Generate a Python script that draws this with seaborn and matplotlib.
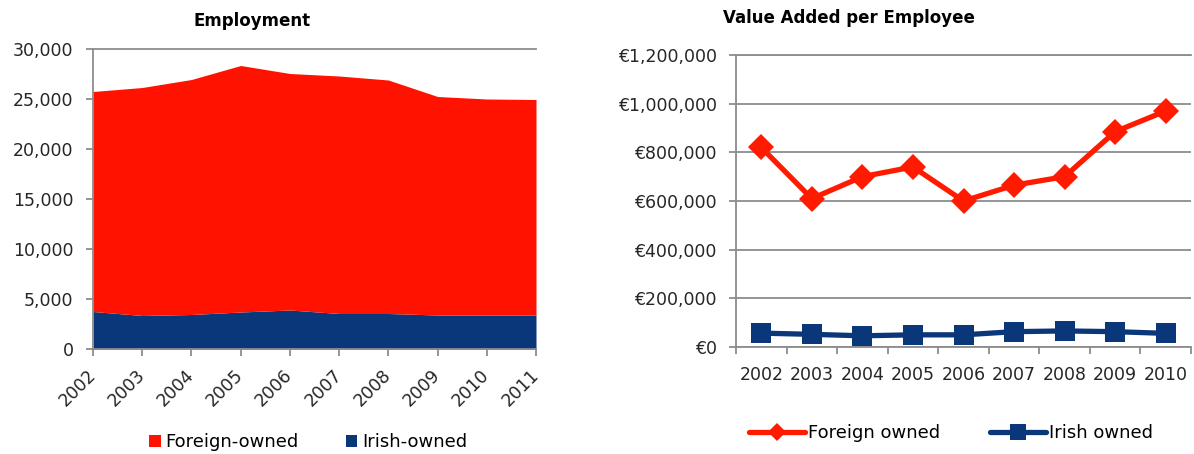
import matplotlib
matplotlib.use("Agg")
import matplotlib.pyplot as plt
import seaborn as sns
import pandas as pd
from matplotlib.patches import Patch
from matplotlib.lines import Line2D
from matplotlib.ticker import FuncFormatter, MultipleLocator, FixedLocator

# ---------------- data ----------------
emp_years = [2002, 2003, 2004, 2005, 2006, 2007, 2008, 2009, 2010, 2011]
emp_irish = [3750, 3350, 3450, 3700, 3900, 3550, 3550, 3400, 3400, 3400]
emp_foreign = [22000, 22800, 23500, 24650, 23650, 23750, 23350, 21850, 21600, 21550]

va_years = ["2002", "2003", "2004", "2005", "2006", "2007", "2008", "2009", "2010"]
va_foreign = [820000, 610000, 700000, 740000, 600000, 665000, 700000, 885000, 970000]
va_irish = [57000, 52000, 46000, 50000, 50000, 63000, 66000, 63000, 56000]

emp_labels = ["Foreign-owned", "Irish-owned"]
va_labels = ["Foreign owned", "Irish owned"]

RED_AREA = "#FF1300"
RED_LINE = "#FF1A00"
BLUE = "#0A367A"
GRID = "#8C8C8C"

sns.set_theme(style="white")
plt.rcParams["font.family"] = ["DejaVu Sans"]
plt.rcParams["text.color"] = "black"

fig = plt.figure(figsize=(11.94, 4.54), dpi=100)
W, H = 1194, 454

def axes_px(x0, x1, ytop, ybot):
    return fig.add_axes([x0 / W, (H - ybot) / H, (x1 - x0) / W, (ybot - ytop) / H])

# ---------------- left: Employment stacked area ----------------
ax1 = axes_px(93, 536, 49, 349)
emp_df = pd.DataFrame({"year": emp_years, "irish": emp_irish, "foreign": emp_foreign})
ax1.stackplot(emp_df["year"], emp_df["irish"], emp_df["foreign"],
              colors=[BLUE, RED_AREA], linewidth=0, zorder=2)
ax1.set_xlim(emp_years[0], emp_years[-1])
ax1.set_ylim(0, 30000)
ax1.yaxis.set_major_locator(MultipleLocator(5000))
ax1.yaxis.set_major_formatter(FuncFormatter(lambda v, p: f"{int(v):,}"))
ax1.set_xticks(emp_years)
ax1.set_xticklabels([str(y) for y in emp_years], rotation=45, ha="right",
                    va="center", rotation_mode="anchor")
for s in ["right"]:
    ax1.spines[s].set_visible(False)
for s in ["left", "bottom", "top"]:
    ax1.spines[s].set_color(GRID)
    ax1.spines[s].set_linewidth(1.3)
ax1.tick_params(axis="y", which="major", length=5, width=1.3, color=GRID,
                labelsize=12.5, pad=9, left=True)
ax1.tick_params(axis="x", which="major", length=5, width=1.3, color=GRID,
                labelsize=12.5, pad=12, bottom=True)
ax1.set_xlabel("")
ax1.set_ylabel("")

fig.text(252 / W, 1 - 21 / H, "Employment", ha="center", va="center",
         fontsize=12, fontweight="bold")

fig.legend(handles=[Patch(facecolor=RED_AREA, edgecolor="none", label=emp_labels[0]),
                    Patch(facecolor=BLUE, edgecolor="none", label=emp_labels[1])],
           loc="center", bbox_to_anchor=(308 / W, 1 - 442 / H), ncol=2, frameon=False,
           fontsize=13, handlelength=0.65, handleheight=0.65, handletextpad=0.25,
           columnspacing=2.6, borderaxespad=0, borderpad=0)

# ---------------- right: Value added per employee ----------------
ax2 = axes_px(736, 1191, 55, 347)
pos = list(range(len(va_years)))
va_df = pd.DataFrame({"pos": pos, "foreign": va_foreign, "irish": va_irish})
sns.lineplot(data=va_df, x="pos", y="foreign", ax=ax2, color=RED_LINE, lw=3.8,
             marker="D", markersize=13, markeredgecolor=RED_LINE, markeredgewidth=0,
             legend=False, zorder=4)
sns.lineplot(data=va_df, x="pos", y="irish", ax=ax2, color=BLUE, lw=3.8,
             marker="s", markersize=14, markeredgecolor=BLUE, markeredgewidth=0,
             legend=False, zorder=4)
ax2.set_xlim(-0.5, len(va_years) - 0.5)
ax2.set_ylim(0, 1200000)
ax2.yaxis.set_major_locator(MultipleLocator(200000))
ax2.yaxis.set_major_formatter(FuncFormatter(lambda v, p: f"\u20ac{int(v):,}"))
ax2.set_xticks(pos)
ax2.set_xticklabels(va_years)
ax2.xaxis.set_minor_locator(FixedLocator([p - 0.5 for p in pos] + [pos[-1] + 0.5]))
ax2.yaxis.grid(True, color=GRID, lw=1.3)
ax2.set_axisbelow(True)
ax2.spines["right"].set_visible(False)
for s in ["left", "bottom", "top"]:
    ax2.spines[s].set_color(GRID)
    ax2.spines[s].set_linewidth(1.3)
ax2.tick_params(axis="y", which="major", length=5, width=1.3, color=GRID,
                labelsize=12.5, pad=9, left=True)
ax2.tick_params(axis="x", which="major", length=0, labelsize=12.5, pad=14)
ax2.tick_params(axis="x", which="minor", length=5, width=1.3, color=GRID, bottom=True)
ax2.set_xlabel("")
ax2.set_ylabel("")

fig.text(849 / W, 1 - 18 / H, "Value Added per Employee", ha="center", va="center",
         fontsize=12, fontweight="bold")

fig.legend(handles=[Line2D([], [], color=RED_LINE, lw=3.8, marker="D", markersize=9,
                           markeredgewidth=0, label=va_labels[0]),
                    Line2D([], [], color=BLUE, lw=3.8, marker="s", markersize=11,
                           markeredgewidth=0, label=va_labels[1])],
           loc="center", bbox_to_anchor=(951 / W, 1 - 433 / H), ncol=2, frameon=False,
           fontsize=13, handlelength=3.1, handletextpad=0.15, columnspacing=2.8,
           borderaxespad=0, borderpad=0)

fig.savefig("out.png", dpi=100)
